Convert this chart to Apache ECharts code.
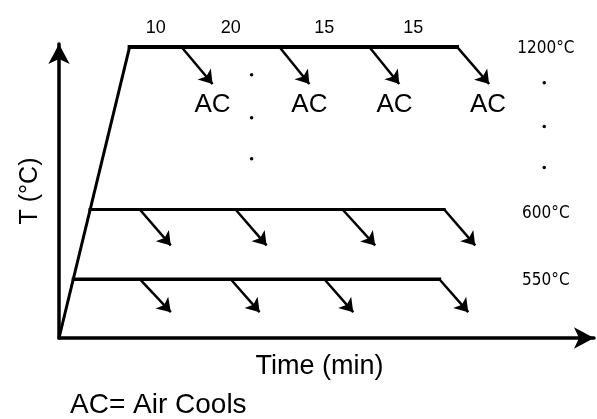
<!DOCTYPE html>
<html><head><meta charset="utf-8">
<script src="https://cdn.jsdelivr.net/npm/echarts@6/dist/echarts.min.js"></script>
<style>html,body{margin:0;padding:0;background:#fff}#c{width:597px;height:419px}</style>
</head><body><div id="c"></div>
<script>
// Schematic heat-treatment diagram: x = schematic time units (0-100), y = schematic temperature level (0-100)
const holdTemps = ['1200°C', '600°C', '550°C'];
const holdLevels = [99.0, 43.7, 20.0];
const holdStartX = [13.2, 5.8, 2.7];
const holdEndX = [74.4, 72.0, 71.1];
const coolStartX = [
  [22.9, 41.2, 58.0, 74.4],
  [15.1, 33.0, 53.0, 72.0],
  [15.1, 32.1, 49.6, 71.1]
];
const coolEndX = [
  [28.7, 46.8, 63.6, 80.4],
  [20.9, 38.8, 59.1, 77.8],
  [20.9, 37.5, 55.0, 76.5]
];
const coolEndLevels = [86.4, 31.5, 8.8];
const holdMinutes = ['10', '20', '15', '15'];
const minutesLabelX = [18.1, 32.1, 49.6, 66.2];
const minutesLabelLevel = 105.4;
const acLabels = ['AC', 'AC', 'AC', 'AC'];
const acLabelX = [28.7, 46.8, 62.7, 80.2];
const acLabelLevel = 79.3;
const tempLabelX = 91.0;
const tempLabelLevels = [98.6, 42.4, 19.7];
const dotsLeftX = 36.0;
const dotsLeftLevels = [89.5, 74.9, 61.0];
const dotsRightX = 90.7;
const dotsRightLevels = [86.8, 71.9, 58.0];

const FONT = '"Liberation Sans", Arial, Helvetica, sans-serif';
const NARROW = '"Liberation Sans Narrow", "DejaVu Sans Condensed", "Liberation Sans", sans-serif';
const holdWidths = [4, 3, 3.5];

const chart = echarts.init(document.getElementById('c'), null, {renderer: 'canvas'});

const series = [];
series.push({
  type: 'line', clip: false, symbol: 'none', silent: true,
  data: [[0, 0], [holdStartX[0], holdLevels[0]]],
  lineStyle: {color: '#000', width: 3}
});
holdLevels.forEach((lv, i) => {
  series.push({
    type: 'line', clip: false, symbol: 'none', silent: true,
    data: [[holdStartX[i], lv], [holdEndX[i], lv]],
    lineStyle: {color: '#000', width: holdWidths[i], cap: 'square'},
    markLine: {
      silent: true, symbol: ['none', 'arrow'], symbolSize: 13,
      label: {show: false},
      lineStyle: {color: '#000', width: 2.5, type: 'solid'},
      emphasis: {disabled: true},
      data: coolStartX[i].map((sx, j) => [
        {coord: [sx, lv]},
        {coord: [coolEndX[i][j], coolEndLevels[i]]}
      ])
    }
  });
});

function textSeries(points, fontSize, family) {
  return {
    type: 'scatter', clip: false, silent: true, symbolSize: 0,
    itemStyle: {opacity: 1, color: '#000'},
    data: points.map(p => ({value: [p[0], p[1]], name: p[2]})),
    label: {show: true, position: 'inside', formatter: '{b}', color: '#000', opacity: 1,
      fontSize: fontSize, fontFamily: family}
  };
}
series.push(textSeries(holdMinutes.map((t, j) => [minutesLabelX[j], minutesLabelLevel, t]), 18, FONT));
series.push(textSeries(acLabels.map((t, j) => [acLabelX[j], acLabelLevel, t]), 26, FONT));
series.push(textSeries(holdTemps.map((t, i) => [tempLabelX, tempLabelLevels[i], t]), 17, NARROW));
series.push({
  type: 'scatter', clip: false, silent: true, symbol: 'circle', symbolSize: 3.5,
  itemStyle: {color: '#000', opacity: 1},
  data: dotsLeftLevels.map(v => [dotsLeftX, v]).concat(dotsRightLevels.map(v => [dotsRightX, v]))
});

chart.setOption({
  animation: false,
  backgroundColor: '#fff',
  title: {
    text: 'AC= Air Cools', left: 65, top: 386,
    textStyle: {fontSize: 28, fontWeight: 'normal', color: '#000', fontFamily: FONT}
  },
  grid: {left: 59, right: 3, top: 44, bottom: 81, containLabel: false},
  xAxis: {
    type: 'value', min: 0, max: 100,
    axisLine: {show: true, onZero: false, symbol: ['none', 'arrow'], symbolSize: [16, 20],
      lineStyle: {color: '#000', width: 3.5}},
    axisTick: {show: false}, axisLabel: {show: false}, splitLine: {show: false},
    name: 'Time (min)', nameLocation: 'middle', nameGap: 15,
    nameTextStyle: {fontSize: 27, color: '#000', fontFamily: FONT, padding: [0, 14, 0, 0]}
  },
  yAxis: {
    type: 'value', min: 0, max: 100,
    axisLine: {show: true, onZero: false, symbol: ['none', 'arrow'], symbolSize: [16, 20],
      lineStyle: {color: '#000', width: 3.5}},
    axisTick: {show: false}, axisLabel: {show: false}, splitLine: {show: false},
    name: 'T (°C)', nameLocation: 'middle', nameGap: 16, nameRotate: 90,
    nameTextStyle: {fontSize: 25, color: '#000', fontFamily: FONT}
  },
  series: series
});
</script></body></html>
